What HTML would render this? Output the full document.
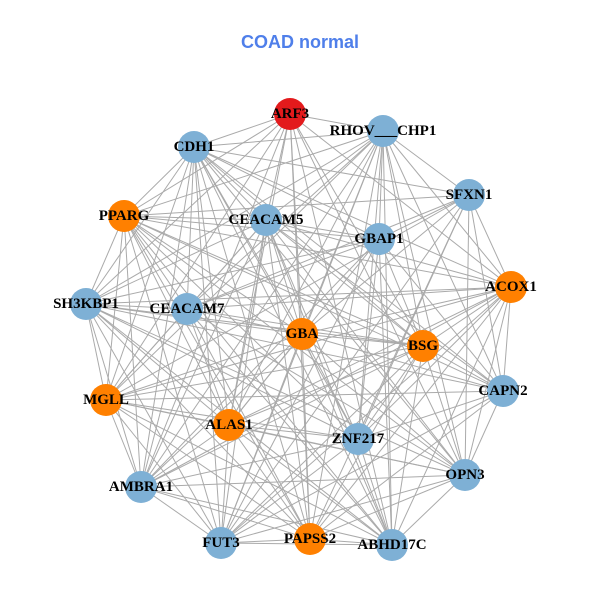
<!DOCTYPE html>
<html><head><meta charset="utf-8"><style>
html,body{margin:0;padding:0;background:#fff;}
svg{display:block;}
.l{font-family:"Liberation Serif",serif;font-weight:bold;font-size:15px;fill:#000;text-anchor:middle;dominant-baseline:central;}
</style></head><body>
<svg id="s" width="600" height="600" xmlns="http://www.w3.org/2000/svg">
<rect width="600" height="600" fill="#fff"/>
<text x="300" y="42" text-anchor="middle" dominant-baseline="central" font-family="Liberation Sans,sans-serif" font-weight="bold" font-size="18" fill="#4f7fea">COAD normal</text>
<g id="e" stroke="#aaaaaa" stroke-width="1"></g>
<g id="n"></g>
<text class="l" x="290" y="114">ARF3</text>
<text class="l" x="383" y="131">RHOV___CHP1</text>
<text class="l" x="194" y="147">CDH1</text>
<text class="l" x="469" y="195">SFXN1</text>
<text class="l" x="124" y="216">PPARG</text>
<text class="l" x="266" y="220">CEACAM5</text>
<text class="l" x="379" y="239">GBAP1</text>
<text class="l" x="511" y="287">ACOX1</text>
<text class="l" x="86" y="304">SH3KBP1</text>
<text class="l" x="187" y="309">CEACAM7</text>
<text class="l" x="302" y="334">GBA</text>
<text class="l" x="423" y="346">BSG</text>
<text class="l" x="503" y="391">CAPN2</text>
<text class="l" x="106" y="400">MGLL</text>
<text class="l" x="229" y="425">ALAS1</text>
<text class="l" x="358" y="439">ZNF217</text>
<text class="l" x="465" y="475">OPN3</text>
<text class="l" x="141" y="487">AMBRA1</text>
<text class="l" x="221" y="543">FUT3</text>
<text class="l" x="310" y="539">PAPSS2</text>
<text class="l" x="392" y="545">ABHD17C</text>
</svg>
<script>
var N=[[290,114,'#e31a1c'],[383,131,'#7eb0d5'],[194,147,'#7eb0d5'],[469,195,'#7eb0d5'],[124,216,'#ff8000'],[266,220,'#7eb0d5'],[379,239,'#7eb0d5'],[511,287,'#ff8000'],[86,304,'#7eb0d5'],[187,309,'#7eb0d5'],[302,334,'#ff8000'],[423,346,'#ff8000'],[503,391,'#7eb0d5'],[106,400,'#ff8000'],[229,425,'#ff8000'],[358,439,'#7eb0d5'],[465,475,'#7eb0d5'],[141,487,'#7eb0d5'],[221,543,'#7eb0d5'],[310,539,'#ff8000'],[392,545,'#7eb0d5']];
var ns="http://www.w3.org/2000/svg",e=document.getElementById('e'),g=document.getElementById('n');
for(var i=0;i<N.length;i++)for(var j=i+1;j<N.length;j++){if((i*7+j*3)%9==0)continue;var l=document.createElementNS(ns,'line');l.setAttribute('x1',N[i][0]);l.setAttribute('y1',N[i][1]);l.setAttribute('x2',N[j][0]);l.setAttribute('y2',N[j][1]);e.appendChild(l);}
N.forEach(function(p){var c=document.createElementNS(ns,'circle');c.setAttribute('cx',p[0]);c.setAttribute('cy',p[1]);c.setAttribute('r',16);c.setAttribute('fill',p[2]);g.appendChild(c);});
</script>
</body></html>
